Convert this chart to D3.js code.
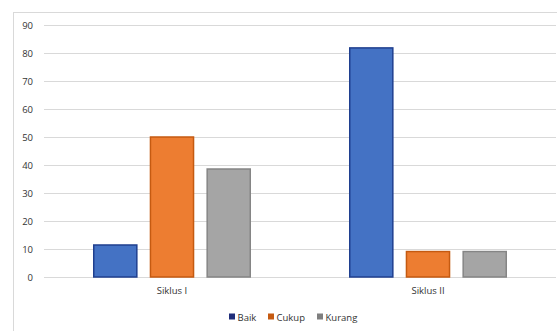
<!DOCTYPE html>
<html>
<head>
<meta charset="utf-8">
<script src="https://cdn.jsdelivr.net/npm/d3@7"></script>
<style>
  html, body { margin: 0; padding: 0; background: #fff; }
  svg { display: block; }
  text { font-family: "Open Sans", "Liberation Sans", sans-serif; fill: #333; }
</style>
</head>
<body>
<svg id="chart" width="557" height="331"></svg>
<script>
// Categories, series and values
const categories = ["Siklus I", "Siklus II"];
const seriesNames = ["Baik", "Cukup", "Kurang"];
const baik = [11.43, 81.82];
const cukup = [50, 9.09];
const kurang = [38.57, 9.09];
const yTicks = [0, 10, 20, 30, 40, 50, 60, 70, 80, 90];

const seriesValues = [baik, cukup, kurang];
const fills = ["#4472c4", "#ed7d31", "#a5a5a5"];
const strokes = ["#1f3f8f", "#c55a11", "#858585"];
const legendColors = ["#1f2d7a", "#c55a11", "#7f7f7f"];
const textColor = "#333333";
const fontFamily = '"Open Sans", "Liberation Sans", sans-serif';

const svg = d3.select("#chart");
const W = 557, H = 331;

// outer chart frame (left and top edges show)
svg.append("line").attr("x1", 13.5).attr("x2", 13.5).attr("y1", 12).attr("y2", H)
  .attr("stroke", "#d9d9d9").attr("stroke-width", 1);
svg.append("line").attr("x1", 13).attr("x2", W).attr("y1", 12.5).attr("y2", 12.5)
  .attr("stroke", "#d9d9d9").attr("stroke-width", 1);

const plot = { left: 44, right: 556, top: 25, bottom: 277 };

const y = d3.scaleLinear().domain([0, 90]).range([plot.bottom, plot.top]);
const x0 = d3.scaleBand().domain(categories).range([plot.left, plot.right]).paddingInner(0).paddingOuter(0);
const x1 = d3.scaleBand().domain(seriesNames).range([0, 158]).paddingInner(0.214).paddingOuter(0);

// gridlines
svg.append("g").selectAll("line").data(yTicks).join("line")
  .attr("x1", plot.left).attr("x2", plot.right)
  .attr("y1", d => Math.round(y(d)) + 0.5).attr("y2", d => Math.round(y(d)) + 0.5)
  .attr("stroke", "#d9d9d9").attr("stroke-width", 1);

// y axis labels
const yAxis = d3.axisLeft(y).tickValues(yTicks).tickSize(0).tickPadding(0);
const gy = svg.append("g").attr("transform", "translate(33,0)").call(yAxis);
gy.select(".domain").remove();
gy.selectAll("text").attr("font-size", 9.5).attr("fill", textColor)
  .style("font-family", fontFamily);

// bars
const groups = svg.append("g").selectAll("g").data(categories).join("g")
  .attr("transform", c => `translate(${x0(c) + x0.bandwidth() / 2 - 79},0)`);

groups.selectAll("rect")
  .data((c, ci) => seriesNames.map((s, si) => ({ s, si, v: seriesValues[si][ci] })))
  .join("rect")
  .attr("x", d => x1(d.s) + 0.75)
  .attr("width", x1.bandwidth() - 1.5)
  .attr("y", d => y(d.v))
  .attr("height", d => y(0) - y(d.v))
  .attr("fill", d => fills[d.si])
  .attr("stroke", d => strokes[d.si])
  .attr("stroke-width", 1.5);

// category labels
const xAxis = d3.axisBottom(x0).tickSize(0).tickPadding(0);
const gx = svg.append("g").attr("transform", "translate(0,287)").call(xAxis);
gx.select(".domain").remove();
gx.selectAll("text").attr("font-size", 9.5).attr("fill", textColor)
  .style("font-family", fontFamily);

// legend
const legendX = [229, 268, 317];
const legend = svg.append("g").selectAll("g").data(seriesNames).join("g")
  .attr("transform", (d, i) => `translate(${legendX[i]},317)`);
legend.append("rect").attr("x", 0).attr("y", -3.5).attr("width", 6).attr("height", 6)
  .attr("fill", (d, i) => legendColors[i]);
legend.append("text").attr("x", 8.5).attr("y", 3.5).attr("font-size", 9.5)
  .attr("fill", textColor).text(d => d);
</script>
</body>
</html>
